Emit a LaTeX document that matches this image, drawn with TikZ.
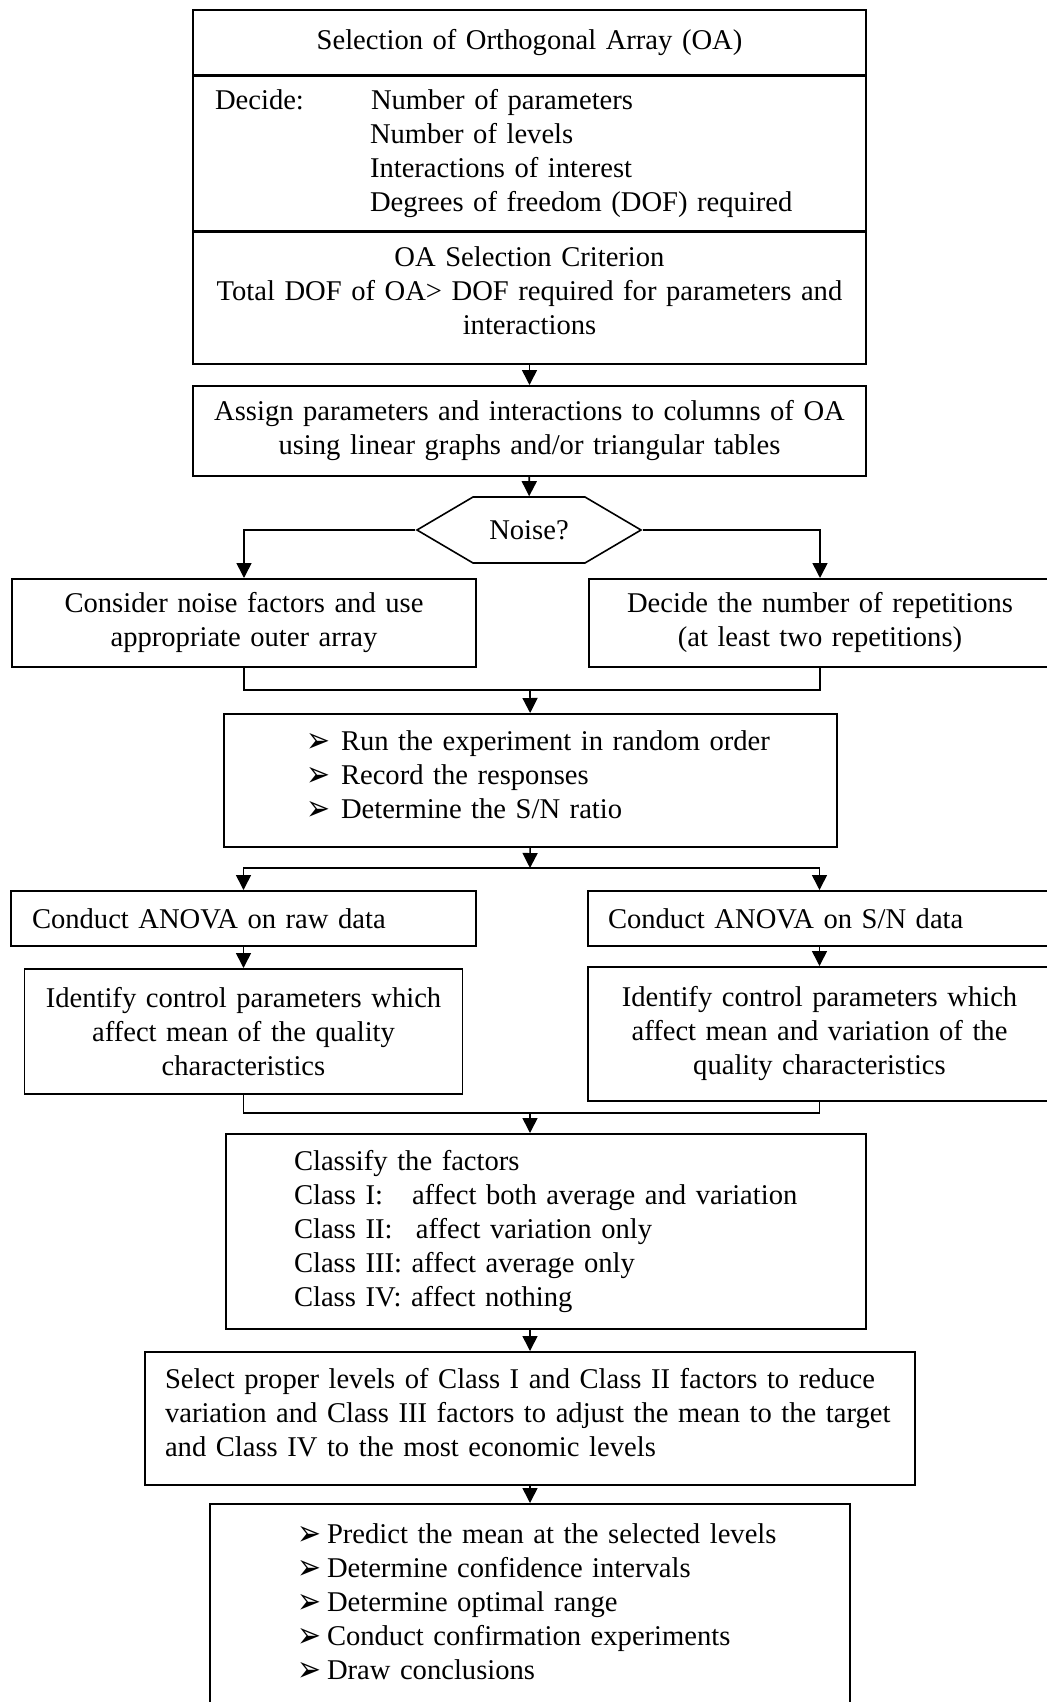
\documentclass[tikz,border=0pt]{standalone}
\usepackage{fontspec}
\setmainfont{Liberation Serif}
\newfontfamily\symfont{DejaVu Sans}
\usetikzlibrary{positioning,arrows.meta,shapes.symbols}
\newcommand{\bul}[1]{\makebox[#1][l]{\raisebox{-0.8pt}{\scalebox{1}[1.25]{\symfont ➢}}}}

\begin{document}
\begin{tikzpicture}[x=0.5pt,y=-0.5pt,line width=0.8pt,font=\fontsize{14.3pt}{17pt}\selectfont, box/.style={draw,align=center,inner xsep=0pt,text width=#1}, lbox/.style={draw,align=left,inner xsep=0pt,text width=#1}, arr/.style={-{Triangle[length=7.5pt,width=7.5pt]}}]
\useasboundingbox (0,0) rectangle (1047,1702);
% orthogonal array block
\node[box=336.5pt,minimum height=32.5pt,anchor=north] (oa) at (529.5,9) {Selection of Orthogonal Array (OA)};
\node[lbox=336.5pt,minimum height=77pt,below=0pt of oa] (dec) {\hspace*{11pt}\makebox[78pt][l]{Decide:}Number of parameters\\ \hspace*{88.5pt}Number of levels\\ \hspace*{88.5pt}Interactions of interest\\ \hspace*{88.5pt}Degrees of freedom (DOF) required};
\node[box=336.5pt,minimum height=66pt,below=0pt of dec] (crit) {OA Selection Criterion\\ Total DOF of OA> DOF required for parameters and\\ interactions\\[-9.4pt]\mbox{}};
\node[box=336.5pt,minimum height=45pt,anchor=north] (asg) at (529.5,385) {Assign parameters and interactions to columns of OA\\ using linear graphs and/or triangular tables};
\node[draw,signal,signal to=east and west,signal pointer angle=61,minimum width=112pt,minimum height=33pt,inner sep=0pt] (noise) at (529,530) {Noise?};
\node[box=232pt,minimum height=44pt,anchor=north] (outer) at (244,578) {Consider noise factors and use\\ appropriate outer array};
\node[box=231pt,minimum height=44pt,anchor=north] (rep) at (820,578) {Decide the number of repetitions\\ (at least two repetitions)};
\coordinate (m1) at (530,690);
\node[lbox=306.5pt,minimum height=66.5pt,anchor=north] (run) at (530.5,713) {\hspace*{41pt}\bul{17.5pt}Run the experiment in random order\\ \hspace*{41pt}\bul{17.5pt}Record the responses\\ \hspace*{41pt}\bul{17.5pt}Determine the S/N ratio\\[-11.2pt]\mbox{}};
\coordinate (s1) at (530,868);
% analysis
\node[lbox=232.5pt,minimum height=27.5pt,anchor=north] (anraw) at (243.5,890) {\hspace*{10.5pt}Conduct ANOVA on raw data};
\node[lbox=231.5pt,minimum height=27.5pt,anchor=north] (ansn) at (819.5,890) {\hspace*{10pt}Conduct ANOVA on S/N data};
\node[box=219pt,minimum height=62.5pt,anchor=north] (idraw) at (243.5,968) {Identify control parameters which\\ affect mean of the quality\\ characteristics};
\node[box=231.5pt,minimum height=67pt,anchor=north] (idsn) at (819.5,966) {Identify control parameters which\\ affect mean and variation of the\\ quality characteristics};
\coordinate (m2) at (530,1113);
\node[lbox=320pt,minimum height=97.5pt,anchor=north] (cls) at (546,1133) {\hspace*{34pt}Classify the factors\\ \hspace*{34pt}\makebox[59pt][l]{Class I:}affect both average and variation\\ \hspace*{34pt}\makebox[61pt][l]{Class II:}affect variation only\\ \hspace*{34pt}Class III: affect average only\\ \hspace*{34pt}Class IV: affect nothing};
\node[lbox=385pt,minimum height=66.5pt,anchor=north] (lev) at (530,1351) {\hspace*{10pt}\makebox[364pt][s]{Select proper levels of Class I and Class II factors to reduce}\\ \hspace*{10pt}\makebox[364pt][s]{variation and Class III factors to adjust the mean to the target}\\ \hspace*{10pt}and Class IV to the most economic levels\\[-11.6pt]\mbox{}};
\node[lbox=320pt,minimum height=101pt,anchor=north] (conf) at (530,1503) {\hspace*{43.5pt}\bul{15pt}Predict the mean at the selected levels\\ \hspace*{43.5pt}\bul{15pt}Determine confidence intervals\\ \hspace*{43.5pt}\bul{15pt}Determine optimal range\\ \hspace*{43.5pt}\bul{15pt}Conduct confirmation experiments\\ \hspace*{43.5pt}\bul{15pt}Draw conclusions\\[-13.7pt]\mbox{}};
% connectors
\foreach \a/\b in {crit/asg,asg/noise,anraw/idraw,ansn/idsn,lev/conf} \draw[arr] (\a) -- (\b);
\draw[arr] (noise.west) -| (outer.north);
\draw[arr] (noise.east) -| (rep.north);
\draw (outer.south) |- (m1) -| (rep.south);
\draw[arr] (m1) -- (run);
\draw[arr] (run) -- (s1);
\draw[arr] (s1) -| (anraw.north);
\draw[arr] (s1) -| (ansn.north);
\draw (idraw.south) |- (m2) -| (idsn.south);
\draw[arr] (m2) -- (m2 |- cls.north);
\draw[arr] (cls.south -| m2) -- (lev);
\end{tikzpicture}
\end{document}
